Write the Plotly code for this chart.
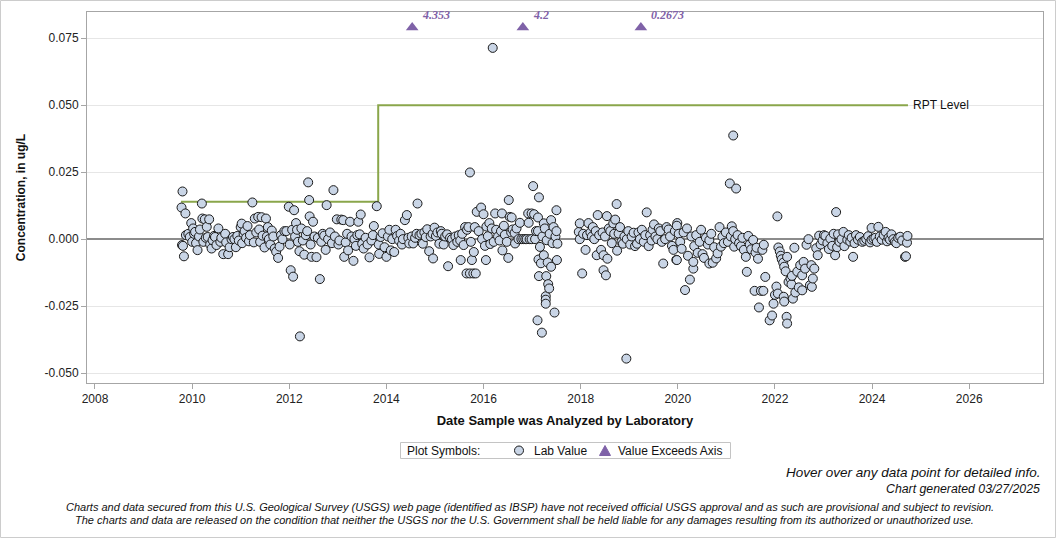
import pandas as pd
import plotly.graph_objects as go

# ---------------- data ----------------
# Lab values: decimal year of analysis and concentration (ug/L)
lab_year = [
    2009.78, 2009.80, 2009.79, 2009.81, 2009.83, 2009.86, 2009.87, 2009.92, 2009.95, 2009.98,
    2010.00, 2010.02, 2010.04, 2010.06, 2010.08, 2010.11, 2010.14, 2010.16, 2010.20, 2010.21,
    2010.23, 2010.26, 2010.28, 2010.30, 2010.32, 2010.35, 2010.37, 2010.40, 2010.42, 2010.45,
    2010.47, 2010.50, 2010.54, 2010.58, 2010.60, 2010.64, 2010.68, 2010.70, 2010.74, 2010.77,
    2010.81, 2010.84, 2010.87, 2010.90, 2010.93, 2010.96, 2011.00, 2011.02, 2011.03, 2011.06,
    2011.08, 2011.11, 2011.14, 2011.17, 2011.19, 2011.24, 2011.27, 2011.29, 2011.32, 2011.36,
    2011.38, 2011.40, 2011.43, 2011.45, 2011.49, 2011.52, 2011.54, 2011.56, 2011.58, 2011.61,
    2011.64, 2011.67, 2011.70, 2011.73, 2011.77, 2011.80, 2011.83, 2011.86, 2011.90, 2011.94,
    2011.99, 2012.01, 2012.03, 2012.06, 2012.08, 2012.10, 2012.12, 2012.14, 2012.16, 2012.18,
    2012.21, 2012.22, 2012.25, 2012.28, 2012.31, 2012.34, 2012.37, 2012.39, 2012.41, 2012.42,
    2012.44, 2012.46, 2012.49, 2012.52, 2012.56, 2012.59, 2012.63, 2012.66, 2012.69, 2012.72,
    2012.75, 2012.77, 2012.80, 2012.84, 2012.88, 2012.91, 2012.94, 2012.98, 2013.01, 2013.03,
    2013.07,
    2013.11, 2013.13, 2013.16, 2013.19, 2013.21, 2013.25, 2013.28, 2013.32, 2013.34, 2013.37,
    2013.40, 2013.42, 2013.45, 2013.47, 2013.50, 2013.53, 2013.57, 2013.61, 2013.65, 2013.69,
    2013.72, 2013.74, 2013.80, 2013.84, 2013.85, 2013.88, 2013.92, 2013.96, 2014.00, 2014.03,
    2014.06, 2014.09, 2014.12, 2014.16, 2014.19, 2014.22, 2014.26, 2014.29, 2014.32, 2014.34,
    2014.38, 2014.42, 2014.45, 2014.47, 2014.52, 2014.55, 2014.59, 2014.62, 2014.64, 2014.68,
    2014.72, 2014.75, 2014.78, 2014.81, 2014.84, 2014.88, 2014.91, 2014.95, 2014.96, 2014.99,
    2015.02, 2015.05, 2015.09, 2015.12, 2015.14, 2015.18, 2015.21, 2015.25, 2015.27, 2015.31,
    2015.35, 2015.38, 2015.42, 2015.46, 2015.49, 2015.52, 2015.53, 2015.56, 2015.59, 2015.62,
    2015.65, 2015.66, 2015.69, 2015.72, 2015.72, 2015.74, 2015.76, 2015.79, 2015.80, 2015.82,
    2015.84, 2015.86, 2015.90, 2015.95, 2015.97, 2016.00, 2016.03, 2016.05, 2016.06, 2016.09,
    2016.12, 2016.14, 2016.17, 2016.19, 2016.21, 2016.24, 2016.26, 2016.30, 2016.33, 2016.36,
    2016.38, 2016.39, 2016.42, 2016.44, 2016.48, 2016.51, 2016.52, 2016.54, 2016.57,
    2016.58, 2016.60, 2016.64, 2016.65, 2016.68, 2016.72, 2016.75, 2016.78, 2016.82, 2016.86,
    2016.89, 2016.92, 2016.93, 2016.95, 2016.99, 2016.99, 2017.02, 2017.04, 2017.06, 2017.08,
    2017.11, 2017.12, 2017.12, 2017.13, 2017.14, 2017.14, 2017.16, 2017.18, 2017.20, 2017.21,
    2017.24, 2017.24, 2017.26, 2017.28, 2017.28, 2017.28, 2017.29, 2017.30, 2017.32, 2017.33,
    2017.35, 2017.36, 2017.39, 2017.39, 2017.42, 2017.44, 2017.46, 2017.48, 2017.50, 2017.50,
    2017.51, 2017.52,
    2017.96, 2017.98, 2017.98, 2018.03, 2018.05, 2018.10, 2018.13, 2018.16, 2018.20, 2018.23,
    2018.25, 2018.28, 2018.31, 2018.33, 2018.35, 2018.38, 2018.42, 2018.45, 2018.47, 2018.47,
    2018.50, 2018.52, 2018.54, 2018.55, 2018.58, 2018.61, 2018.64, 2018.67, 2018.69, 2018.71,
    2018.74, 2018.75, 2018.78, 2018.81, 2018.84, 2018.87, 2018.90, 2018.94, 2018.95, 2018.98,
    2019.02, 2019.05, 2019.09, 2019.12, 2019.16, 2019.19, 2019.22, 2019.26, 2019.30, 2019.33,
    2019.36, 2019.40, 2019.43, 2019.46, 2019.48, 2019.51, 2019.54, 2019.58, 2019.61, 2019.64,
    2019.67, 2019.70, 2019.74, 2019.77, 2019.81, 2019.84, 2019.88, 2019.91, 2019.94, 2019.97,
    2019.99,
    2019.98, 2019.98, 2020.02, 2020.05, 2020.08, 2020.12, 2020.15, 2020.19, 2020.21, 2020.25,
    2020.28, 2020.32, 2020.32, 2020.34, 2020.38, 2020.41, 2020.45, 2020.48, 2020.51, 2020.54,
    2020.58, 2020.62, 2020.65, 2020.65, 2020.69, 2020.72, 2020.75, 2020.79, 2020.82, 2020.86,
    2020.89, 2020.92, 2020.95, 2020.99, 2021.03, 2021.07, 2021.09, 2021.11, 2021.14, 2021.14,
    2021.16, 2021.18, 2021.20, 2021.23, 2021.26, 2021.30, 2021.33, 2021.36, 2021.40, 2021.42,
    2021.45, 2021.48, 2021.51, 2021.55, 2021.58, 2021.60, 2021.62, 2021.65, 2021.67, 2021.71,
    2021.74, 2021.76, 2021.77, 2021.80,
    2021.89, 2021.94, 2021.97, 2022.00, 2022.03, 2022.05, 2022.06, 2022.07, 2022.10, 2022.12,
    2022.14, 2022.17, 2022.18, 2022.19, 2022.19, 2022.22, 2022.24, 2022.25, 2022.25, 2022.28,
    2022.32, 2022.34, 2022.35, 2022.37, 2022.40, 2022.42, 2022.46, 2022.49, 2022.52, 2022.56,
    2022.56, 2022.59, 2022.62, 2022.65, 2022.69, 2022.72, 2022.75, 2022.76, 2022.78, 2022.81,
    2022.85, 2022.88, 2022.91, 2022.94, 2022.98, 2023.01, 2023.04, 2023.08, 2023.11, 2023.14,
    2023.18, 2023.21, 2023.24, 2023.26, 2023.28, 2023.30, 2023.33, 2023.37, 2023.41, 2023.43,
    2023.49, 2023.52, 2023.55, 2023.58, 2023.61, 2023.64, 2023.67, 2023.71, 2023.75, 2023.80,
    2023.84, 2023.88, 2023.92, 2023.96, 2023.99, 2023.99, 2024.03, 2024.07, 2024.10, 2024.13,
    2024.16, 2024.20, 2024.24, 2024.28, 2024.31, 2024.34, 2024.37, 2024.40, 2024.44, 2024.47,
    2024.50, 2024.54, 2024.58, 2024.62, 2024.68, 2024.70, 2024.72, 2024.73,
]
lab_value = [
    0.0118, 0.0178, -0.0022, -0.0025, -0.0064, 0.0096, 0.0015, 0.0020, 0.0008, 0.0060,
    -0.0010, 0.0040, 0.0020, 0.0027, -0.0015, -0.0041, 0.0010, 0.0036, 0.0133, 0.0077,
    -0.0010, 0.0074, 0.0005, 0.0046, 0.0008, 0.0074, -0.0020, -0.0035, -0.0004, 0.0012,
    0.0008, -0.0022, 0.0040, -0.0010, 0.0005, -0.0056, 0.0020, -0.0012, -0.0056, -0.0030,
    0.0000, 0.0008, 0.0000, -0.0030, 0.0012, -0.0005, 0.0045, 0.0058, -0.0015, 0.0020,
    0.0030, 0.0005, 0.0049, -0.0008, 0.0015, 0.0137, -0.0012, 0.0077, 0.0025, 0.0083,
    0.0036, -0.0010, 0.0082, 0.0013, -0.0031, 0.0077, 0.0010, 0.0045, 0.0000, -0.0020,
    0.0032, 0.0010, -0.0035, -0.0047, -0.0070, -0.0028, 0.0015, 0.0000, 0.0030, 0.0030,
    0.0121, -0.0020, -0.0116, 0.0035, -0.0140, 0.0108, 0.0010, 0.0060, 0.0035, -0.0010,
    -0.0045, -0.0363, 0.0040, -0.0005, -0.0058, 0.0015, 0.0030, 0.0212, 0.0146, 0.0085,
    -0.0020, -0.0066, 0.0065, 0.0010, -0.0067, 0.0005, -0.0149, -0.0010, 0.0020, 0.0013,
    -0.0040, 0.0127, 0.0000, 0.0025, -0.0015, 0.0183, 0.0010, 0.0074, -0.0020, -0.0005,
    0.0073,
    0.0071, -0.0066, -0.0012, 0.0020, -0.0042, 0.0065, 0.0010, -0.0081, 0.0000, -0.0025,
    0.0015, 0.0065, 0.0018, 0.0092, -0.0017, -0.0035, 0.0005, -0.0020, -0.0068, -0.0005,
    0.0015, 0.0049, 0.0123, -0.0020, -0.0055, 0.0008, 0.0022, -0.0030, -0.0066, 0.0010,
    0.0035, -0.0042, 0.0000, -0.0048, 0.0035, 0.0012, -0.0005, 0.0020, -0.0020, 0.0000,
    0.0071, 0.0090, 0.0005, -0.0016, 0.0010, -0.0016, 0.0005, 0.0020, 0.0133, 0.0015,
    0.0020, -0.0017, 0.0025, 0.0008, 0.0037, -0.0045, 0.0010, 0.0020, -0.0072, 0.0043,
    0.0012, 0.0025, -0.0017, 0.0030, 0.0020, -0.0020, 0.0010, 0.0018, -0.0101, 0.0005,
    0.0000, -0.0022, 0.0010, -0.0010, 0.0015, -0.0005, -0.0078, 0.0020, -0.0022, 0.0045,
    -0.0128, 0.0035, 0.0045, 0.0249, -0.0128, -0.0010, -0.0078, -0.0128, -0.0048, 0.0045,
    -0.0128, 0.0102, 0.0030, 0.0118, 0.0000, 0.0093, -0.0025, -0.0078, 0.0047, 0.0011,
    0.0060, -0.0018, 0.0040, 0.0714, -0.0010, 0.0096, 0.0035, 0.0010, -0.0005, 0.0030,
    0.0096, -0.0042, 0.0050, 0.0016, -0.0010, -0.0070, 0.0146, 0.0083, 0.0025,
    0.0081, 0.0036, 0.0023, -0.0016, 0.0040, 0.0000, 0.0061, 0.0000, 0.0000, 0.0000,
    0.0000, 0.0096, 0.0061, 0.0000, 0.0096, 0.0000, 0.0198, 0.0093, 0.0000, 0.0030,
    -0.0303, 0.0081, 0.0030, -0.0076, 0.0156, -0.0138, -0.0029, -0.0090, -0.0349, 0.0010,
    0.0059, -0.0060, 0.0040, -0.0213, -0.0226, -0.0241, -0.0138, -0.0004, -0.0087, -0.0168,
    -0.0184, 0.0020, 0.0071, -0.0103, -0.0015, 0.0045, -0.0274, 0.0010, 0.0108, 0.0030,
    -0.0078, -0.0017,
    0.0027, 0.0059, 0.0000, -0.0128, 0.0020, -0.0040, 0.0015, 0.0060, 0.0025, 0.0010,
    0.0045, 0.0000, 0.0030, -0.0060, 0.0090, 0.0015, -0.0040, 0.0025, -0.0060, -0.0116,
    0.0010, -0.0135, 0.0086, -0.0073, 0.0040, 0.0030, -0.0015, 0.0059, 0.0020, 0.0073,
    0.0131, -0.0043, 0.0021, 0.0045, -0.0010, -0.0017, 0.0010, -0.0446, 0.0000, 0.0030,
    -0.0020, 0.0010, 0.0024, -0.0026, -0.0017, 0.0025, 0.0000, 0.0035, -0.0010, 0.0015,
    0.0100, -0.0026, 0.0015, -0.0005, 0.0035, 0.0055, 0.0010, 0.0000, 0.0040, 0.0030,
    -0.0010, -0.0091, 0.0000, 0.0045, 0.0036, 0.0010, -0.0025, -0.0040, 0.0030, -0.0077,
    0.0060,
    0.0050, -0.0078, 0.0020, -0.0010, -0.0036, 0.0025, -0.0190, 0.0040, -0.0062, -0.0151,
    0.0010, -0.0110, -0.0085, -0.0026, 0.0015, -0.0051, -0.0010, 0.0035, -0.0056, -0.0070,
    0.0005, -0.0020, -0.0091, -0.0004, 0.0020, -0.0088, -0.0030, -0.0072, -0.0053, 0.0045,
    -0.0028, 0.0009, -0.0015, 0.0025, -0.0010, 0.0208, 0.0010, 0.0048, 0.0387, 0.0030,
    -0.0028, 0.0000, 0.0189, 0.0015, -0.0015, -0.0026, 0.0005, -0.0040, -0.0066, -0.0122,
    0.0012, -0.0020, -0.0038, -0.0003, -0.0193, -0.0050, -0.0032, -0.0073, -0.0255, -0.0193,
    -0.0040, -0.0193, -0.0021, -0.0141,
    -0.0303, -0.0285, -0.0241, -0.0208, -0.0177, 0.0085, -0.0203, -0.0031, -0.0046, -0.0062,
    -0.0075, -0.0088, -0.0215, -0.0103, -0.0233, -0.0120, -0.0290, -0.0315, -0.0066, -0.0160,
    -0.0147, -0.0169, -0.0137, -0.0222, -0.0032, -0.0199, -0.0121, -0.0180, -0.0097, -0.0191,
    -0.0135, -0.0085, -0.0110, -0.0021, 0.0000, -0.0172, -0.0097, -0.0178, -0.0147, -0.0110,
    -0.0034, -0.0060, 0.0013, -0.0020, -0.0005, 0.0015, 0.0012, -0.0015, -0.0037, 0.0002,
    -0.0025, 0.0020, -0.0060, 0.0101, -0.0030, 0.0018, -0.0010, 0.0000, 0.0027, -0.0026,
    -0.0002, 0.0015, -0.0009, 0.0005, -0.0066, -0.0015, 0.0015, -0.0002, 0.0008, -0.0010,
    -0.0006, 0.0000, 0.0011, -0.0012, 0.0042, -0.0002, 0.0002, 0.0005, -0.0010, 0.0046,
    0.0010, -0.0002, 0.0015, 0.0027, -0.0008, 0.0005, -0.0002, 0.0018, 0.0000, -0.0010,
    -0.0015, 0.0005, 0.0009, -0.0005, -0.0066, -0.0064, -0.0013, 0.0012,
]

# Values that exceed the axis (plotted as triangles at the top of the axis)
exceed_year = [2014.53, 2016.81, 2019.24]
exceed_label = ["4.353", "4.2", "0.2673"]
exceed_plot_value = 0.079

# Reporting level step line
rpt_year = [2009.77, 2013.83, 2024.74]
rpt_value = [0.014, 0.050, 0.050]

y_ticks = [-0.050, -0.025, 0.000, 0.025, 0.050, 0.075]
x_range_year = [2007.835, 2027.52]
y_range = [-0.0537, 0.0848]

legend_labels = ["Lab Value", "Value Exceeds Axis"]

# ---------------- helpers ----------------
def to_date(y):
    yi = int(y)
    return pd.Timestamp(f"{yi}-01-01") + pd.Timedelta(days=(y - yi) * 365.25)

FIG_W, FIG_H = 1056, 538
M_L, M_R, M_T, M_B = 87, 13, 12, 155
PW = FIG_W - M_L - M_R
PH = FIG_H - M_T - M_B

def px_x(px):
    return (px - M_L) / PW

def px_y(py):
    return (FIG_H - M_B - py) / PH

FONT = "Liberation Sans, Arial, sans-serif"
PURPLE = "#7f62a8"
GREEN = "#8aa64b"
DOT_FILL = "#c9d5e6"

lab_dates = [to_date(y) for y in lab_year]
exceed_dates = [to_date(y) for y in exceed_year]
rpt_dates = [to_date(y) for y in rpt_year]

fig = go.Figure()

fig.add_trace(go.Scatter(
    x=rpt_dates, y=rpt_value, mode="lines", line=dict(color=GREEN, width=2, shape="hv"),
    showlegend=False, hoverinfo="skip",
))

fig.add_trace(go.Scatter(
    x=lab_dates, y=lab_value, mode="markers", name=legend_labels[0], showlegend=False,
    marker=dict(symbol="circle", size=9, color=DOT_FILL, line=dict(color="#1a1a1a", width=1)),
))

fig.add_trace(go.Scatter(
    x=exceed_dates, y=[exceed_plot_value] * len(exceed_dates), mode="markers",
    name=legend_labels[1], showlegend=False,
    marker=dict(symbol="triangle-up", size=11, color=PURPLE),
))

annotations = []
for d, lab in zip(exceed_dates, exceed_label):
    annotations.append(dict(
        x=d, y=exceed_plot_value, xref="x", yref="y", text=lab, showarrow=False,
        xanchor="left", yanchor="middle", xshift=8, yshift=13,
        font=dict(family="Liberation Serif, Times New Roman, serif", size=12,
                  color=PURPLE, weight="bold", style="italic"),
    ))

annotations.append(dict(
    x=rpt_dates[-1], y=rpt_value[-1], xref="x", yref="y", text="RPT Level",
    showarrow=False, xanchor="left", yanchor="middle", xshift=3,
    font=dict(family=FONT, size=12, color="#111111"),
))

# footer texts
annotations.append(dict(
    x=px_x(1042), y=px_y(472), xref="paper", yref="paper",
    text="Hover over any data point for detailed info.", showarrow=False,
    xanchor="right", yanchor="middle",
    font=dict(family=FONT, size=13.5, color="#111111", style="italic"),
))
annotations.append(dict(
    x=px_x(1042), y=px_y(489), xref="paper", yref="paper",
    text="Chart generated 03/27/2025", showarrow=False,
    xanchor="right", yanchor="middle",
    font=dict(family=FONT, size=12.3, color="#111111", style="italic"),
))
annotations.append(dict(
    x=px_x(529.5), y=px_y(507), xref="paper", yref="paper",
    text=("Charts and data secured from this U.S. Geological Survey (USGS) web page (identified as IBSP) "
          "have not received official USGS approval and as such are provisional and subject to revision."),
    showarrow=False, xanchor="center", yanchor="middle",
    font=dict(family=FONT, size=11, color="#111111", style="italic"),
))
annotations.append(dict(
    x=px_x(524.5), y=px_y(520), xref="paper", yref="paper",
    text=("The charts and data are released on the condition that neither the USGS nor the U.S. Government "
          "shall be held liable for any damages resulting from its authorized or unauthorized use."),
    showarrow=False, xanchor="center", yanchor="middle",
    font=dict(family=FONT, size=11, color="#111111", style="italic"),
))

# legend box (drawn by hand so it is as compact as the original)
LEG_Y = 450.5
annotations.append(dict(
    x=px_x(405), y=px_y(LEG_Y), xref="paper", yref="paper", text="Plot Symbols:",
    showarrow=False, xanchor="left", yanchor="middle",
    font=dict(family=FONT, size=12, color="#111111"),
))
annotations.append(dict(
    x=px_x(532), y=px_y(LEG_Y), xref="paper", yref="paper", text=legend_labels[0],
    showarrow=False, xanchor="left", yanchor="middle",
    font=dict(family=FONT, size=12, color="#111111"),
))
annotations.append(dict(
    x=px_x(616), y=px_y(LEG_Y), xref="paper", yref="paper", text=legend_labels[1],
    showarrow=False, xanchor="left", yanchor="middle",
    font=dict(family=FONT, size=12, color="#111111"),
))

shapes = [
    dict(type="rect", xref="paper", yref="paper",
         x0=px_x(0.5), x1=px_x(FIG_W - 0.5), y0=px_y(FIG_H - 0.5), y1=px_y(0.5),
         line=dict(color="#cccccc", width=1), fillcolor="rgba(0,0,0,0)", layer="below"),
    dict(type="rect", xref="paper", yref="paper",
         x0=px_x(400.5), x1=px_x(730.5), y0=px_y(458.5), y1=px_y(442.5),
         line=dict(color="#c4c4c4", width=1), fillcolor="white", layer="below"),
    dict(type="circle", xref="paper", yref="paper",
         x0=px_x(514.5), x1=px_x(523.5), y0=px_y(LEG_Y + 4.5), y1=px_y(LEG_Y - 4.5),
         line=dict(color="#1a1a1a", width=1), fillcolor=DOT_FILL, layer="above"),
    dict(type="path", xref="paper", yref="paper",
         path=(f"M {px_x(599.5)},{px_y(LEG_Y + 5)} L {px_x(610.5)},{px_y(LEG_Y + 5)} "
               f"L {px_x(605)},{px_y(LEG_Y - 5)} Z"),
         line=dict(color=PURPLE, width=1), fillcolor=PURPLE, layer="above"),
]

fig.update_layout(
    width=FIG_W, height=FIG_H,
    margin=dict(l=M_L, r=M_R, t=M_T, b=M_B, autoexpand=False),
    paper_bgcolor="white", plot_bgcolor="white",
    font=dict(family=FONT, size=12, color="#222222"),
    annotations=annotations, shapes=shapes,
    showlegend=False,
    xaxis=dict(
        type="date", range=[to_date(x_range_year[0]), to_date(x_range_year[1])],
        tick0="2008-01-01", dtick="M24", tickformat="%Y",
        showgrid=False, zeroline=False,
        showline=True, mirror=True, linecolor="#a6a6a6", linewidth=1,
        ticks="outside", ticklen=5, tickcolor="#a6a6a6",
        tickfont=dict(family=FONT, size=12, color="#222222"),
        title=dict(text="<b>Date Sample was Analyzed by Laboratory</b>", standoff=10,
                   font=dict(family=FONT, size=13, color="#111111")),
    ),
    yaxis=dict(
        range=y_range,
        tickvals=y_ticks, ticktext=[f"{v:.3f}" for v in y_ticks],
        showgrid=True, gridcolor="#e6e6e6", gridwidth=1,
        zeroline=True, zerolinecolor="#8c8c8c", zerolinewidth=2,
        showline=True, mirror=True, linecolor="#a6a6a6", linewidth=1,
        ticks="outside", ticklen=5, tickcolor="#a6a6a6",
        tickfont=dict(family=FONT, size=12, color="#222222"),
        title=dict(text="<b>Concentration, in ug/L</b>", standoff=16,
                   font=dict(family=FONT, size=12, color="#111111")),
    ),
    hovermode="closest",
)

fig.write_html("out.html")
